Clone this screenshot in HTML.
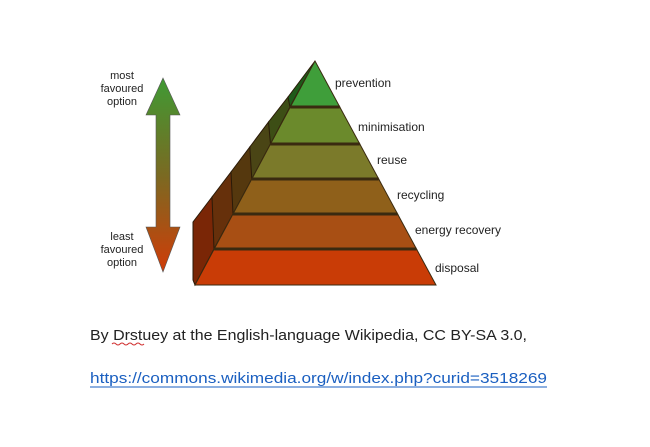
<!DOCTYPE html>
<html><head><meta charset="utf-8"><style>
html,body{margin:0;padding:0;background:#fff;}
svg{display:block;}
</style></head><body>
<svg width="650" height="447" viewBox="0 0 650 447" xmlns="http://www.w3.org/2000/svg">
<defs>
<linearGradient id="ag" x1="0" y1="0" x2="0" y2="1">
<stop offset="0" stop-color="#3f9a34"/><stop offset="0.5" stop-color="#7a6a22"/><stop offset="1" stop-color="#d03c08"/>
</linearGradient>
</defs>
<!-- arrow -->
<polygon points="163,78 180,115 170,115 170,227 180,227 163,272 146,227 156,227 156,115 146,115" fill="url(#ag)" stroke="#555" stroke-width="0.6"/>
<g font-family="Liberation Sans, sans-serif" font-size="11" fill="#222" text-anchor="middle">
<text x="122" y="79">most</text><text x="122" y="92">favoured</text><text x="122" y="105">option</text>
<text x="122" y="240">least</text><text x="122" y="253">favoured</text><text x="122" y="266">option</text>
</g>
<!-- sides -->
<g stroke="#2a1a08" stroke-width="1">
<polygon points="315,61 290,107 288,102 288,97" fill="#1f5a1a"/>
<polygon points="290,107 270.5,144 268.5,139 268.5,122 288,97" fill="#3d4e15"/>
<polygon points="270.5,144 251.8,179 249.8,174 249.8,147 268.5,122" fill="#4a4515"/>
<polygon points="251.8,179 233,214 231,209 231,172 249.8,147" fill="#55380e"/>
<polygon points="233,214 214,249 212,244 212,197 231,172" fill="#66300b"/>
<polygon points="214,249 195,285 193,280 193,222 212,197" fill="#7a2606"/>
</g>
<!-- front bands -->
<g stroke="#3a2a10" stroke-width="1">
<polygon points="315,61 339.8,107 290.3,107" fill="#3f9e3a"/>
<polygon points="290.3,107 339.8,107 359.8,144 270.5,144" fill="#6b8a2c"/>
<polygon points="270.5,144 359.8,144 378.7,179 251.8,179" fill="#7b7a2a"/>
<polygon points="251.8,179 378.7,179 397.6,214 233,214" fill="#8f601a"/>
<polygon points="233,214 397.6,214 416.5,249 214.2,249" fill="#a84f14"/>
<polygon points="214.2,249 416.5,249 436,285 195,285" fill="#c93c06"/>
</g>
<g stroke="#3a2a10" stroke-width="3">
<line x1="290.3" y1="107" x2="339.8" y2="107"/>
<line x1="270.5" y1="144" x2="359.8" y2="144"/>
<line x1="251.8" y1="179" x2="378.7" y2="179"/>
<line x1="233" y1="214" x2="397.6" y2="214"/>
<line x1="214.2" y1="249" x2="416.5" y2="249"/>
</g>
<g font-family="Liberation Sans, sans-serif" font-size="12" fill="#222">
<text x="335" y="87">prevention</text>
<text x="358" y="131">minimisation</text>
<text x="377" y="164">reuse</text>
<text x="397" y="199">recycling</text>
<text x="415" y="234">energy recovery</text>
<text x="435" y="272">disposal</text>
</g>
<g font-family="Liberation Sans, sans-serif" font-size="15">
<text x="90" y="340" fill="#222" textLength="437" lengthAdjust="spacingAndGlyphs">By Drstuey at the English-language Wikipedia, CC BY-SA 3.0,</text>
<path d="M112,344 q2,-2 4,0 t4,0 t4,0 t4,0 t4,0 t4,0 t4,0 t4,0" fill="none" stroke="#d03030" stroke-width="1"/>
<text x="90" y="383" fill="#1a5fc0" textLength="457" lengthAdjust="spacingAndGlyphs">https://commons.wikimedia.org/w/index.php?curid=3518269</text>
<line x1="90" y1="387" x2="547" y2="387" stroke="#1a5fc0" stroke-width="1"/>
</g>
</svg>
</body></html>
